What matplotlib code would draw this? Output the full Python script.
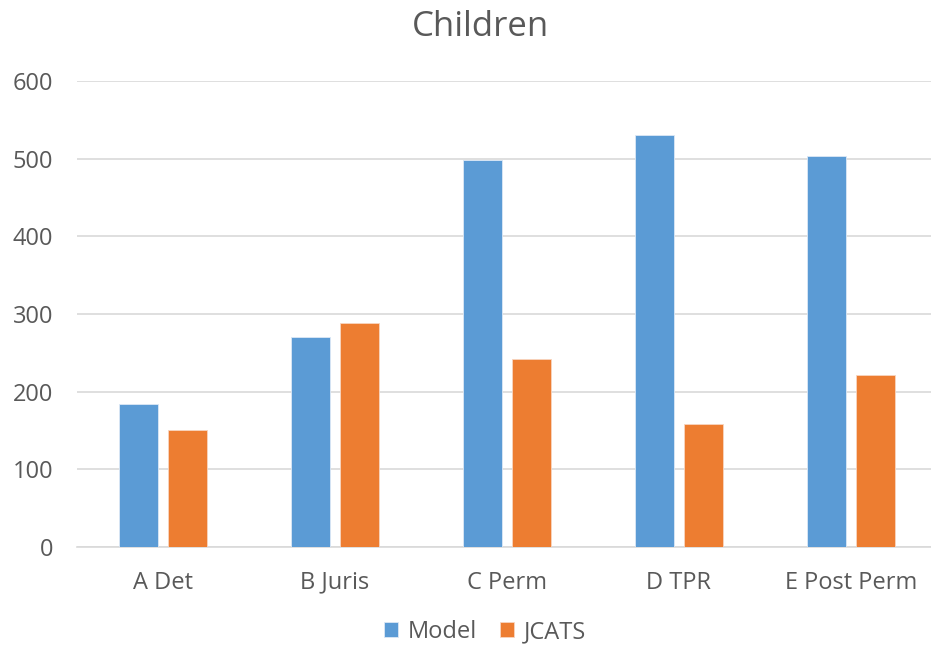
"""Children: Model vs JCATS grouped bar chart."""

import matplotlib.pyplot as plt
import numpy as np

# Data
categories = ['A Det', 'B Juris', 'C Perm', 'D TPR', 'E Post Perm']
model = [184, 270, 498, 530, 504]
jcats = [151, 288, 242, 159, 221]
y_ticks = [0, 100, 200, 300, 400, 500, 600]

BLUE = '#5B9BD5'
ORANGE = '#ED7D31'
TEXT = '#595959'
GRID = '#D9D9D9'

plt.rcParams['font.family'] = ['Open Sans', 'DejaVu Sans']

fig = plt.figure(figsize=(9.31, 6.45), dpi=100)
ax = fig.add_axes([0.0827, 0.1519, 0.9237, 0.7225])

x = np.arange(len(categories))
width = 0.227
offset = 0.142
ax.bar(x - offset, model, width, color=BLUE, edgecolor='#DCE8F5', linewidth=0.6,
       label='Model', zorder=3)
ax.bar(x + offset, jcats, width, color=ORANGE, edgecolor='#F8D5C0', linewidth=0.6,
       label='JCATS', zorder=3)

ax.set_xlim(-0.5, len(categories) - 0.5)
ax.set_ylim(0, 600)
ax.set_yticks(y_ticks)
ax.set_yticklabels([str(v) for v in y_ticks], fontsize=17, color=TEXT)
ax.set_xticks(x)
ax.set_xticklabels(categories, fontsize=17, color=TEXT)
ax.tick_params(axis='both', length=0)
ax.tick_params(axis='y', pad=17)
ax.tick_params(axis='x', pad=17)

# Horizontal gridlines only
ax.grid(axis='y', color=GRID, linewidth=1.2, zorder=0)
ax.set_axisbelow(True)
for side in ['top', 'right', 'left']:
    ax.spines[side].set_visible(False)
ax.spines['bottom'].set_color(GRID)
ax.spines['bottom'].set_linewidth(1.2)

fig.text(480 / 931, 1 - 27 / 645, 'Children', ha='center', va='center',
         fontsize=25, color=TEXT)

handles, labels = ax.get_legend_handles_labels()
fig.legend(handles, labels, loc='center', bbox_to_anchor=(485 / 931, 1 - 632 / 645),
           ncol=2, frameon=False, fontsize=17, labelcolor=TEXT,
           handlelength=0.6, handleheight=0.6, handletextpad=0.4, columnspacing=1.0)

fig.savefig('out.png', dpi=100, facecolor='white')
plt.close(fig)
